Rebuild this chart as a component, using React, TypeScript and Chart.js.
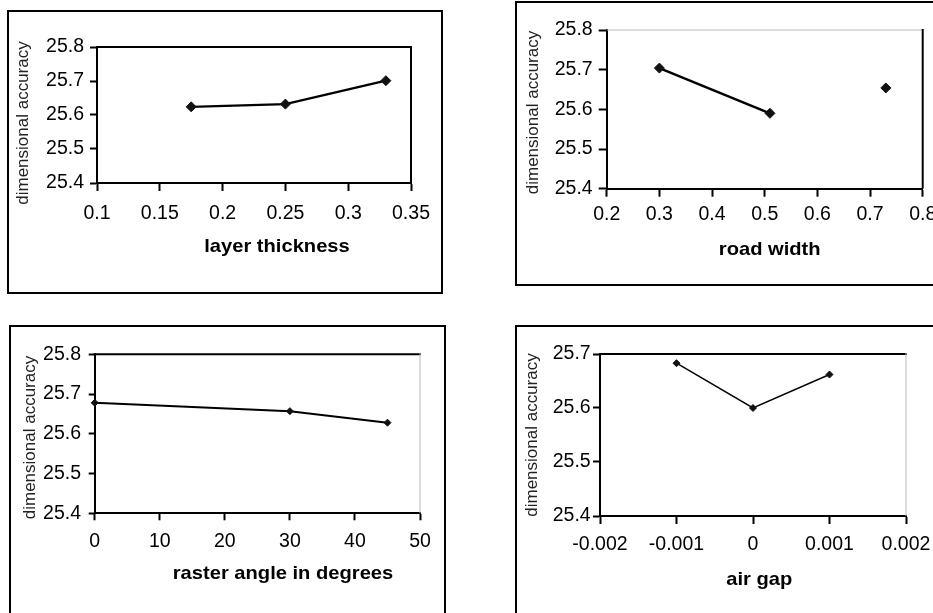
import React, { useEffect, useRef } from "react";
import { Chart, registerables } from "chart.js";

Chart.register(...registerables);

// ---- data ----
const layerThickness = [0.175, 0.25, 0.33];
const accuracyLayer = [25.624, 25.632, 25.701];
const layerTicks = [0.1, 0.15, 0.2, 0.25, 0.3, 0.35];

const roadWidth = [0.3, 0.51, 0.73];
const accuracyRoad = [25.704, 25.59, 25.654];
const roadTicks = [0.2, 0.3, 0.4, 0.5, 0.6, 0.7, 0.8];

const rasterAngle = [0, 30, 45];
const accuracyRaster = [25.678, 25.657, 25.628];
const rasterTicks = [0, 10, 20, 30, 40, 50];

const airGap = [-0.001, 0, 0.001];
const accuracyAir = [25.683, 25.6, 25.662];
const airTicks = [-0.002, -0.001, 0, 0.001, 0.002];

const accuracyTicks = [25.4, 25.5, 25.6, 25.7, 25.8];
const accuracyTicksAir = [25.4, 25.5, 25.6, 25.7];

const yTitleText = "dimensional accuracy";

const FONT = '"Liberation Sans", Arial, sans-serif';

type PanelSpec = {
  box: { left: number; top: number; width: number; height: number };
  xs: number[];
  ys: number[];
  xTicks: number[];
  yTicks: number[];
  xTitle: string;
  pad: { left: number; right: number; top: number; bottom: number };
  yAxisW: number;
  xAxisH: number;
  yTick: { len: number; pad: number };
  xTick: { len: number; pad: number };
  yTitlePos: { x: number; y: number };
  xTitlePos: { x: number; y: number };
  topColor: string;
  topW: number;
  rightColor: string;
  rightW: number;
  pointR: number;
  lineW: number;
  gapAfter?: number;
};

const panels: PanelSpec[] = [
  {
    box: { left: 7, top: 10, width: 436, height: 284 },
    xs: layerThickness,
    ys: accuracyLayer,
    xTicks: layerTicks,
    yTicks: accuracyTicks,
    xTitle: "layer thickness",
    pad: { left: 18, right: 30, top: 35, bottom: 49 },
    yAxisW: 70,
    xAxisH: 60,
    yTick: { len: 7, pad: 6 },
    xTick: { len: 8, pad: 10.5 },
    yTitlePos: { x: 14, y: 111 },
    xTitlePos: { x: 268, y: 240 },
    topColor: "#000",
    topW: 2,
    rightColor: "#000",
    rightW: 2,
    pointR: 5,
    lineW: 2.2,
  },
  {
    box: { left: 515, top: 1, width: 445, height: 285 },
    xs: roadWidth,
    ys: accuracyRoad,
    xTicks: roadTicks,
    yTicks: accuracyTicks,
    xTitle: "road width",
    pad: { left: 19.7, right: 35.3, top: 27, bottom: 35.3 },
    yAxisW: 70,
    xAxisH: 60,
    yTick: { len: 8, pad: 6 },
    xTick: { len: 8, pad: 6.5 },
    yTitlePos: { x: 16.3, y: 109.5 },
    xTitlePos: { x: 252.7, y: 252 },
    topColor: "#bbb",
    topW: 1,
    rightColor: "#000",
    rightW: 2,
    pointR: 5,
    lineW: 2.5,
    gapAfter: 1,
  },
  {
    box: { left: 9, top: 325, width: 437, height: 300 },
    xs: rasterAngle,
    ys: accuracyRaster,
    xTicks: rasterTicks,
    yTicks: accuracyTicks,
    xTitle: "raster angle in degrees",
    pad: { left: 13.7, right: 24, top: 27.3, bottom: 49.7 },
    yAxisW: 70,
    xAxisH: 60,
    yTick: { len: 6, pad: 7.7 },
    xTick: { len: 7, pad: 9.5 },
    yTitlePos: { x: 19.5, y: 110.5 },
    xTitlePos: { x: 272, y: 252 },
    topColor: "#000",
    topW: 2,
    rightColor: "#bbb",
    rightW: 1,
    pointR: 3.5,
    lineW: 2,
  },
  {
    box: { left: 515, top: 325, width: 441, height: 300 },
    xs: airGap,
    ys: accuracyAir,
    xTicks: airTicks,
    yTicks: accuracyTicksAir,
    xTitle: "air gap",
    pad: { left: 13, right: 48, top: 27, bottom: 47 },
    yAxisW: 70,
    xAxisH: 60,
    yTick: { len: 7, pad: 2.3 },
    xTick: { len: 8, pad: 9 },
    yTitlePos: { x: 15.5, y: 108 },
    xTitlePos: { x: 242.3, y: 258 },
    topColor: "#000",
    topW: 2,
    rightColor: "#bbb",
    rightW: 1,
    pointR: 3.5,
    lineW: 1.5,
  },
];

function Panel({ spec }: { spec: PanelSpec }) {
  const ref = useRef<HTMLCanvasElement | null>(null);
  const innerW = spec.box.width - 4;
  const innerH = spec.box.height - 4;

  useEffect(() => {
    if (!ref.current) return;
    const decor = {
      id: "decor",
      afterDraw(chart: any) {
        const { ctx, chartArea: a } = chart;
        ctx.save();
        ctx.lineWidth = spec.topW;
        ctx.strokeStyle = spec.topColor;
        ctx.beginPath();
        ctx.moveTo(a.left, a.top);
        ctx.lineTo(a.right + 1, a.top);
        ctx.stroke();
        ctx.lineWidth = spec.rightW;
        ctx.strokeStyle = spec.rightColor;
        ctx.beginPath();
        ctx.moveTo(a.right, a.top - 1);
        ctx.lineTo(a.right, a.bottom);
        ctx.stroke();

        ctx.save();
        ctx.fillStyle = "#000";
        ctx.font = `bold 19px ${FONT}`;
        ctx.textAlign = "center";
        ctx.textBaseline = "alphabetic";
        ctx.translate(spec.xTitlePos.x, spec.xTitlePos.y);
        ctx.scale(1.06, 1);
        ctx.fillText(spec.xTitle, 0, 0);
        ctx.restore();

        ctx.translate(spec.yTitlePos.x, spec.yTitlePos.y);
        ctx.rotate(-Math.PI / 2);
        ctx.fillStyle = "#222";
        ctx.font = `17px ${FONT}`;
        ctx.textAlign = "center";
        ctx.textBaseline = "middle";
        ctx.fillText(yTitleText, 0, 0);
        ctx.restore();
      },
    };

    const points = spec.xs.map((x, i) => ({ x, y: spec.ys[i] }));

    const chart = new Chart(ref.current, {
      type: "line",
      data: {
        datasets: [
          {
            data: points,
            borderColor: "#000",
            borderWidth: spec.lineW,
            backgroundColor: "#111",
            pointBackgroundColor: "#111",
            pointBorderColor: "#111",
            pointStyle: "rectRot",
            pointRadius: spec.pointR,
            pointBorderWidth: 1,
            tension: 0,
            clip: false as any,
            segment: {
              borderColor: (c: any) =>
                spec.gapAfter !== undefined && c.p0DataIndex === spec.gapAfter
                  ? "rgba(0,0,0,0)"
                  : "#000",
            },
          },
        ],
      },
      options: {
        animation: false,
        responsive: false,
        devicePixelRatio: 1,
        layout: { padding: spec.pad },
        plugins: {
          legend: { display: false },
          tooltip: { enabled: false },
          title: { display: false },
        },
        scales: {
          x: {
            type: "linear",
            min: spec.xTicks[0],
            max: spec.xTicks[spec.xTicks.length - 1],
            afterBuildTicks: (s: any) => {
              s.ticks = spec.xTicks.map((v) => ({ value: v }));
            },
            afterFit: (s: any) => {
              s.height = spec.xAxisH;
              s.paddingLeft = 0;
              s.paddingRight = 0;
            },
            ticks: {
              color: "#000",
              font: { family: FONT, size: 19.5 },
              padding: spec.xTick.pad,
              maxRotation: 0,
              autoSkip: false,
              callback: (v: any) => String(v),
            },
            grid: {
              drawOnChartArea: false,
              drawTicks: true,
              tickLength: spec.xTick.len,
              tickColor: "#000",
              tickWidth: 2,
            },
            border: { display: true, color: "#000", width: 2 },
          },
          y: {
            type: "linear",
            min: spec.yTicks[0],
            max: spec.yTicks[spec.yTicks.length - 1],
            afterBuildTicks: (s: any) => {
              s.ticks = spec.yTicks.map((v) => ({ value: v }));
            },
            afterFit: (s: any) => {
              s.width = spec.yAxisW;
              s.paddingTop = 0;
              s.paddingBottom = 0;
            },
            ticks: {
              color: "#000",
              font: { family: FONT, size: 19.5 },
              padding: spec.yTick.pad,
              autoSkip: false,
              callback: (v: any) => String(v),
            },
            grid: {
              drawOnChartArea: false,
              drawTicks: true,
              tickLength: spec.yTick.len,
              tickColor: "#000",
              tickWidth: 2,
            },
            border: { display: true, color: "#000", width: 2 },
          },
        },
      },
      plugins: [decor],
    });
    return () => chart.destroy();
  }, []);

  return (
    <div
      style={{
        position: "absolute",
        left: spec.box.left,
        top: spec.box.top,
        width: spec.box.width,
        height: spec.box.height,
        border: "2px solid #000",
        boxSizing: "border-box",
        background: "#fff",
      }}
    >
      <canvas
        ref={ref}
        width={innerW}
        height={innerH}
        style={{ display: "block", width: innerW, height: innerH }}
      />
    </div>
  );
}

export default function App() {
  return (
    <div
      style={{
        position: "fixed",
        left: 0,
        top: 0,
        width: 933,
        height: 613,
        overflow: "hidden",
        background: "#fff",
      }}
    >
      {panels.map((p, i) => (
        <Panel key={i} spec={p} />
      ))}
    </div>
  );
}
